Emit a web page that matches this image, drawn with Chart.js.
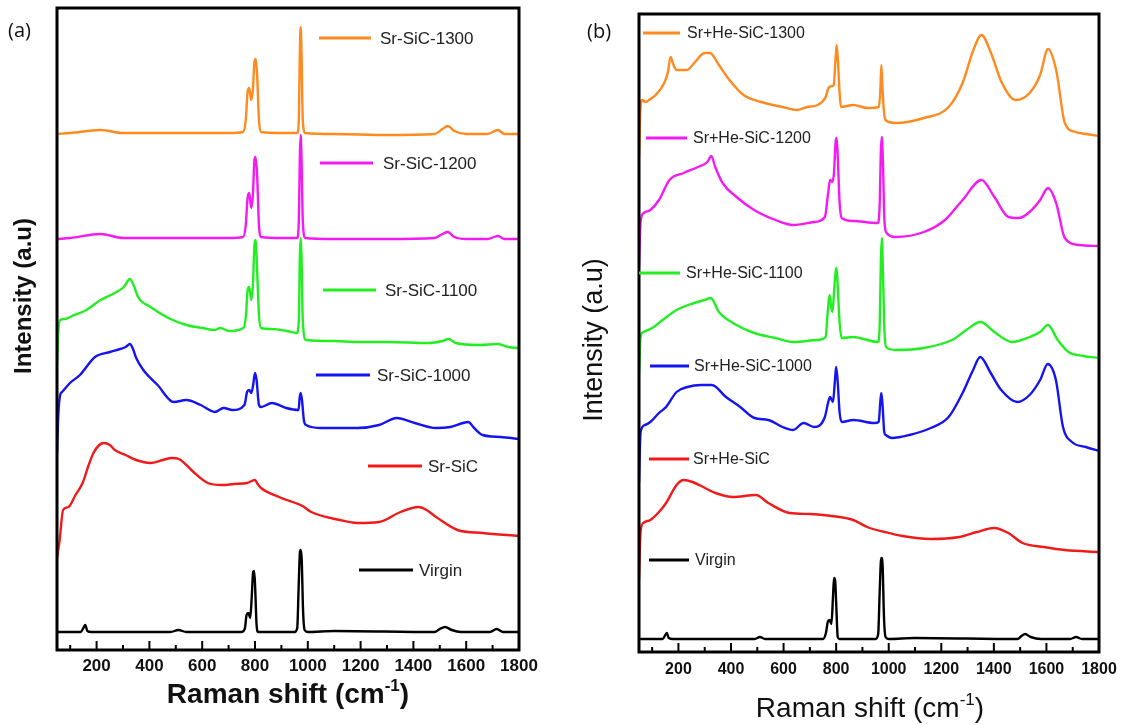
<!DOCTYPE html>
<html><head><meta charset="utf-8">
<script src="https://cdn.jsdelivr.net/npm/chart.js@4.4.1/dist/chart.umd.min.js"></script>
<style>
html,body{margin:0;padding:0;background:#fff;width:1125px;height:725px;overflow:hidden}
canvas{position:absolute;top:0}
#ca{left:0}
#cb{left:560px}
</style></head><body>
<canvas id="ca" width="560" height="725"></canvas>
<canvas id="cb" width="565" height="725"></canvas>
<script>
// ---------- DATA (Raman shift [cm-1], offset intensity [a.u.]) ----------
const xMin = 50, xMax = 1800;

// Panel (a)
const labelsA = ['Sr-SiC-1300', 'Sr-SiC-1200', 'Sr-SiC-1100', 'Sr-SiC-1000', 'Sr-SiC', 'Virgin'];
const srSiC1300 = [[50,516],[100,517],[215,520],[300,517],[500,517],[700,517],[755,518],[765,530],[772,558],[778,562],[786,550],[792,560],[798,588],[803,591],[808,575],[815,530],[823,518],[900,517],[960,517],[966,530],[970,600],[973,623],[976,600],[981,530],[990,517],[1100,516],[1300,515],[1480,516],[1510,521],[1530,524],[1555,519],[1600,516],[1680,516],[1720,520],[1745,516],[1800,516]];
const srSiC1200 = [[50,411],[100,412],[215,416],[300,412],[500,412],[700,412],[755,413],[765,425],[772,452],[778,457],[786,442],[792,455],[798,490],[802,493],[808,475],[815,425],[823,413],[900,412],[960,412],[966,430],[970,495],[973,515],[976,495],[981,430],[990,412],[1100,411],[1300,411],[1480,412],[1510,416],[1530,418],[1555,413],[1600,411],[1680,411],[1720,414],[1745,411],[1800,411]];
const srSiC1100 = [[50,285],[55,318],[62,330],[80,331],[107,334],[161,340],[215,350],[269,357],[303,363],[326,371],[340,365],[357,353],[404,343],[472,332],[540,325],[600,322],[648,320],[668,322],[702,319],[756,322],[766,335],[772,360],[778,363],[786,350],[792,365],[798,405],[802,410],[808,380],[815,335],[823,322],[864,321],[920,319],[958,317],[966,330],[970,395],[973,412],[976,395],[981,330],[993,310],[1100,309],[1188,308],[1300,308],[1459,307],[1510,309],[1533,311],[1560,307],[1650,305],[1720,306],[1760,303],[1800,302]];
const srSiC1000 = [[50,195],[55,235],[62,255],[69,258],[99,267],[137,275],[194,293],[251,298],[289,301],[310,303],[326,306],[338,301],[350,292],[377,280],[431,265],[492,248],[540,250],[594,245],[648,238],[681,242],[715,240],[760,245],[770,258],[778,260],[786,257],[793,265],[800,277],[806,270],[815,245],[823,243],[864,247],[918,242],[965,240],[969,252],[973,257],[978,250],[985,230],[993,225],[1053,222],[1188,222],[1270,225],[1337,232],[1405,227],[1486,222],[1540,223],[1608,228],[1630,222],[1662,215],[1730,213],[1800,211]];
const srSiC = [[50,92],[60,110],[73,140],[93,143],[120,155],[147,167],[170,185],[188,197],[210,205],[228,207],[250,205],[269,200],[310,195],[350,190],[404,187],[450,190],[485,192],[512,191],[540,185],[567,178],[621,167],[675,165],[720,166],[770,167],[800,170],[810,166],[823,162],[891,153],[972,145],[980,144],[1013,138],[1121,130],[1188,127],[1270,128],[1351,138],[1419,143],[1450,140],[1486,133],[1567,120],[1662,117],[1800,114]];
const virginA = [[50,18],[140,18],[150,22],[157,25],[165,19],[180,18],[480,18],[510,20],[540,18],[750,18],[762,22],[768,35],[775,37],[782,32],[788,55],[793,78],[797,79],[801,60],[806,25],[812,18],[950,18],[960,22],[965,60],[970,97],[973,100],[977,90],[982,40],[988,20],[1000,18],[1100,19],[1480,18],[1500,21],[1520,23],[1545,20],[1580,18],[1690,18],[1715,21],[1740,18],[1800,18]];

// Panel (b)
const labelsB = ['Sr+He-SiC-1300', 'Sr+He-SiC-1200', 'Sr+He-SiC-1100', 'Sr+He-SiC-1000', 'Sr+He-SiC', 'Virgin'];
const srHe1300 = [[50,495],[56,545],[62,552],[75,550],[93,553],[113,557],[146,569],[160,580],[170,595],[180,588],[193,582],[233,582],[260,589],[300,599],[320,599],[354,587],[394,572],[448,557],[515,550],[596,545],[650,542],[690,545],[730,547],[760,555],[771,564],[785,566],[791,567],[797,590],[802,607],[807,590],[813,560],[818,545],[865,547],[919,544],[962,545],[968,560],[972,587],[976,565],[982,540],[988,532],[1026,529],[1134,534],[1228,545],[1281,569],[1322,602],[1353,617],[1389,599],[1429,570],[1483,552],[1536,559],[1576,577],[1606,603],[1637,582],[1670,529],[1710,520],[1750,518],[1800,516]];
const srHe1200 = [[50,385],[56,430],[68,439],[93,442],[126,452],[166,472],[220,479],[274,485],[310,490],[325,496],[340,485],[368,469],[421,455],[488,442],[569,432],[636,427],[717,430],[757,435],[770,460],[777,472],[786,470],[792,480],[798,510],[802,514],[807,490],[813,450],[821,434],[865,431],[959,429],[966,450],[970,500],[974,515],[978,490],[984,430],[992,419],[1026,415],[1134,420],[1214,432],[1281,452],[1353,472],[1402,455],[1456,435],[1496,434],[1536,440],[1576,452],[1606,464],[1637,449],[1670,414],[1724,407],[1800,406]];
const srHe1100 = [[50,277],[56,315],[66,320],[100,324],[140,332],[193,342],[260,349],[300,352],[323,354],[354,340],[421,327],[488,319],[569,314],[636,310],[730,312],[760,315],[768,340],[775,357],[781,345],[786,340],[792,360],[798,380],[802,384],[807,360],[813,330],[821,314],[865,315],[959,310],[966,330],[970,390],[974,414],[978,380],[984,320],[990,305],[1026,302],[1134,304],[1241,312],[1295,322],[1349,330],[1402,320],[1469,310],[1536,315],[1576,320],[1606,327],[1643,312],[1684,300],[1740,296],[1800,294]];
const srHe1000 = [[50,169],[56,220],[73,227],[93,230],[126,239],[153,245],[193,260],[234,265],[287,267],[327,267],[381,255],[435,245],[489,234],[542,232],[596,225],[636,222],[676,229],[717,225],[757,235],[770,250],[777,255],[788,250],[795,270],[800,285],[806,270],[813,240],[821,230],[865,232],[945,229],[962,230],[968,250],[972,259],[977,245],[983,220],[989,217],[1012,214],[1079,217],[1160,224],[1228,235],[1281,259],[1321,282],[1348,295],[1388,279],[1428,262],[1489,250],[1536,257],[1576,272],[1605,288],[1636,272],[1663,225],[1697,210],[1750,205],[1800,201]];
const srHe = [[50,72],[56,120],[66,129],[93,132],[126,140],[153,149],[193,167],[220,172],[254,170],[301,164],[341,159],[408,155],[495,157],[542,149],[623,139],[703,138],[784,136],[865,132],[918,125],[985,120],[1052,116],[1160,113],[1268,115],[1335,120],[1401,124],[1455,119],[1509,109],[1590,105],[1670,102],[1800,100]];
const virginB = [[50,13],[140,13],[150,17],[156,19],[163,14],[180,13],[490,13],[510,15],[530,13],[750,13],[762,20],[768,30],[775,32],[782,28],[788,55],[792,74],[796,72],[800,50],[806,15],[812,13],[950,13],[960,18],[965,55],[970,90],[973,94],[977,85],[982,35],[988,15],[1000,13],[1100,14],[1490,13],[1505,16],[1519,18],[1540,15],[1580,13],[1690,13],[1713,15],[1735,13],[1800,13]];

const colors = ['#FF8A1F', '#F21CF2', '#22EE22', '#1414F0', '#F01A1A', '#000000'];

// ---------- LAYOUT ----------
const FONT = '"Liberation Sans", Arial, sans-serif';
const toXY = arr => arr.map(([x, y]) => ({x, y}));
const makeSets = (series, labels) => series.map((s, i) => ({
  label: labels[i], data: toXY(s), borderColor: colors[i], borderWidth: 2.4,
  pointRadius: 0, fill: false, cubicInterpolationMode: 'monotone'
}));

function drawXTitle(ctx, cx, cy, size, weight) {
  const main = 'Raman shift (cm', sup = '-1', close = ')';
  ctx.font = `${weight} ${size}px ${FONT}`;
  const w1 = ctx.measureText(main).width, w3 = ctx.measureText(close).width;
  ctx.font = `${weight} ${Math.round(size * 0.6)}px ${FONT}`;
  const w2 = ctx.measureText(sup).width;
  let x0 = cx - (w1 + w2 + w3) / 2;
  const base = cy + size * 0.36;
  ctx.textAlign = 'left'; ctx.textBaseline = 'alphabetic';
  ctx.font = `${weight} ${size}px ${FONT}`;
  ctx.fillText(main, x0, base);
  ctx.font = `${weight} ${Math.round(size * 0.6)}px ${FONT}`;
  ctx.fillText(sup, x0 + w1, base - size * 0.42);
  ctx.font = `${weight} ${size}px ${FONT}`;
  ctx.fillText(close, x0 + w1 + w2, base);
}

function panelPlugin(p) {
  return {
    id: 'panel',
    afterDraw(chart) {
      const {ctx, chartArea: a} = chart;
      const xs = chart.scales.x;
      ctx.save();
      ctx.strokeStyle = '#000'; ctx.fillStyle = '#000';
      ctx.lineWidth = 2;
      xs.ticks.forEach(t => {
        const px = xs.getPixelForValue(t.value);
        const len = t.value % 200 === 0 ? 9 : 5;
        ctx.beginPath(); ctx.moveTo(px, a.bottom); ctx.lineTo(px, a.bottom - len); ctx.stroke();
      });
      ctx.lineWidth = 3;
      ctx.strokeRect(a.left, a.top, a.right - a.left, a.bottom - a.top);
      chart.data.datasets.forEach((ds, i) => {
        const L = p.legend[i];
        ctx.strokeStyle = ds.borderColor; ctx.lineWidth = 3;
        ctx.beginPath(); ctx.moveTo(L[0], L[2]); ctx.lineTo(L[1], L[2]); ctx.stroke();
        ctx.fillStyle = '#222';
        ctx.font = `${p.legendSize}px ${FONT}`;
        ctx.textAlign = 'left'; ctx.textBaseline = 'middle';
        ctx.fillText(ds.label, L[3], L[2] + 1);
      });
      ctx.fillStyle = '#111';
      ctx.font = `20px "Open Sans", ${FONT}`;
      ctx.textAlign = 'left'; ctx.textBaseline = 'middle';
      ctx.fillText(p.letter[0], p.letter[1], p.letter[2]);
      ctx.save();
      ctx.translate(p.yTitle[0], p.yTitle[1]);
      ctx.rotate(-Math.PI / 2);
      ctx.font = `${p.yTitle[3]} ${p.yTitle[2]}px ${FONT}`;
      ctx.textAlign = 'center'; ctx.textBaseline = 'middle';
      ctx.fillText('Intensity (a.u)', 0, 0);
      ctx.restore();
      drawXTitle(ctx, p.xTitle[0], p.xTitle[1], p.xTitle[2], p.xTitle[3]);
      ctx.restore();
    }
  };
}

function makeChart(id, datasets, yMax, pad, xHeight, tickFont, tickPad, plug) {
  return new Chart(document.getElementById(id), {
    type: 'line',
    data: { datasets },
    options: {
      responsive: false, animation: false, devicePixelRatio: 1,
      layout: { padding: pad },
      plugins: { legend: { display: false }, tooltip: { enabled: false } },
      scales: {
        x: {
          type: 'linear', min: xMin, max: xMax,
          afterFit: s => { s.height = xHeight; },
          grid: { display: false, drawTicks: false }, border: { display: false },
          ticks: {
            stepSize: 100, includeBounds: false, autoSkip: false, maxRotation: 0,
            padding: tickPad, font: tickFont, color: '#111',
            callback: v => (v % 200 === 0 ? String(v) : '')
          }
        },
        y: { display: false, min: 0, max: yMax }
      }
    },
    plugins: [plug]
  });
}

makeChart('ca',
  makeSets([srSiC1300, srSiC1200, srSiC1100, srSiC1000, srSiC, virginA], labelsA),
  642, { left: 57, right: 41, top: 8, bottom: 0 }, 75,
  { family: FONT, size: 17, weight: 'bold' }, 6,
  panelPlugin({
    legend: [[319,371,38,380],[320,373,163,383],[323,376,290,385],[316,370,375,377],[368,422,466,428],[359,413,570,419]],
    legendSize: 17,
    letter: ['(a)', 8, 31],
    yTitle: [24, 296, 24, 'bold'],
    xTitle: [288, 693, 28, 'bold']
  }));

makeChart('cb',
  makeSets([srHe1300, srHe1200, srHe1100, srHe1000, srHe, virginB], labelsB),
  638, { left: 79, right: 26, top: 14, bottom: 0 }, 73,
  { family: FONT, size: 16, weight: 'bold' }, 8,
  panelPlugin({
    legend: [[83,120,33,127],[86,127,138,133],[79,120,273,126],[90,129,366,134],[89,129,459,133],[89,129,560,135]],
    legendSize: 16,
    letter: ['(b)', 27, 32],
    yTitle: [35, 340, 27, 'normal'],
    xTitle: [310, 707, 28, 'normal']
  }));
</script>
</body></html>
